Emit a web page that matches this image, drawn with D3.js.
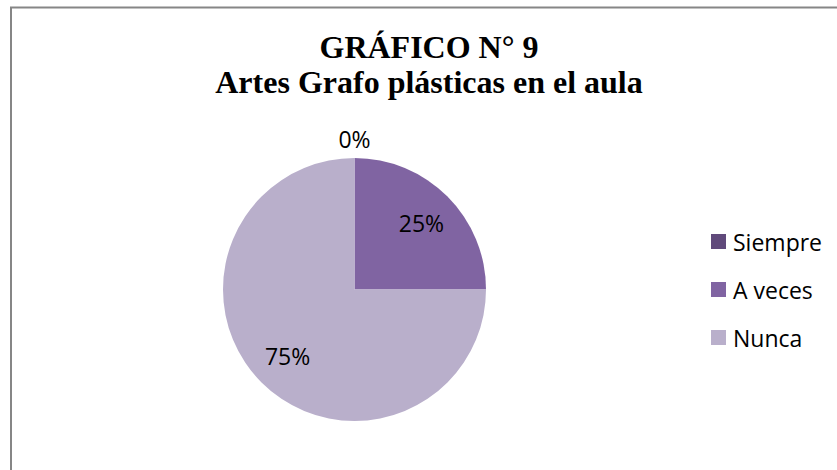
<!DOCTYPE html>
<html>
<head>
<meta charset="utf-8">
<script src="https://cdn.jsdelivr.net/npm/d3@7"></script>
<style>
  body { margin: 0; background: #fff; }
  .title { font-family: "Liberation Serif", "Times New Roman", serif; font-weight: bold; font-size: 32px; fill: #000; }
  .pct { font-family: "Open Sans", sans-serif; font-size: 23px; fill: #000; }
  .legend-text { font-family: "Open Sans", sans-serif; font-size: 23px; fill: #000; }
</style>
</head>
<body>
<div id="chart-div"></div>
<script>
// chart data
var categories = ["Siempre", "A veces", "Nunca"];
var values = [0, 25, 75];
var colors = ["#604A7B", "#8064A2", "#B9AFCB"];
var titleLines = ["GRÁFICO N° 9", "Artes Grafo plásticas en el aula"];

var width = 837, height = 470;

var svg = d3.select("#chart-div")
  .append("svg")
    .attr("width", width)
    .attr("height", height);

// chart frame (runs off the right and bottom edges)
svg.append("rect")
  .attr("x", 11)
  .attr("y", 7.5)
  .attr("width", 900)
  .attr("height", 600)
  .attr("fill", "none")
  .attr("stroke", "#868686")
  .attr("stroke-width", 2);

// title
svg.append("text")
  .attr("class", "title")
  .attr("x", 429)
  .attr("y", 58)
  .attr("text-anchor", "middle")
  .text(titleLines[0]);

svg.append("text")
  .attr("class", "title")
  .attr("x", 429)
  .attr("y", 93)
  .attr("text-anchor", "middle")
  .text(titleLines[1]);

// pie
var cx = 354.5, cy = 289.5, radius = 131.5;

var color = d3.scaleOrdinal()
  .domain(categories)
  .range(colors);

var pie = d3.pie()
  .sort(null)
  .value((d, i) => values[i]);

var arcs = pie(categories);

var arc = d3.arc()
  .innerRadius(0)
  .outerRadius(radius);

var labelArc = d3.arc()
  .innerRadius(radius * 0.72)
  .outerRadius(radius * 0.72);

var outerArc = d3.arc()
  .innerRadius(radius + 19)
  .outerRadius(radius + 19);

var g = svg.append("g")
  .attr("transform", "translate(" + cx + "," + cy + ")");

g.selectAll("path")
  .data(arcs)
  .enter()
    .append("path")
    .attr("d", arc)
    .attr("fill", d => color(d.data));

// percent labels: zero slices sit just outside the pie
g.selectAll(".pct")
  .data(arcs)
  .enter()
    .append("text")
    .attr("class", "pct")
    .attr("text-anchor", "middle")
    .attr("dominant-baseline", "central")
    .attr("transform", d => {
      var p = (d.value === 0 ? outerArc : labelArc).centroid(d);
      return "translate(" + p[0] + "," + p[1] + ")";
    })
    .text(d => d.value + "%");

// legend
var legend = svg.append("g")
  .attr("transform", "translate(711,234)");

var row = legend.selectAll("g")
  .data(categories)
  .enter()
    .append("g")
    .attr("transform", (d, i) => "translate(0," + (i * 48) + ")");

row.append("rect")
  .attr("width", 15)
  .attr("height", 15)
  .attr("fill", d => color(d));

row.append("text")
  .attr("class", "legend-text")
  .attr("x", 22)
  .attr("y", 8)
  .attr("dominant-baseline", "central")
  .text(d => d);
</script>
</body>
</html>
